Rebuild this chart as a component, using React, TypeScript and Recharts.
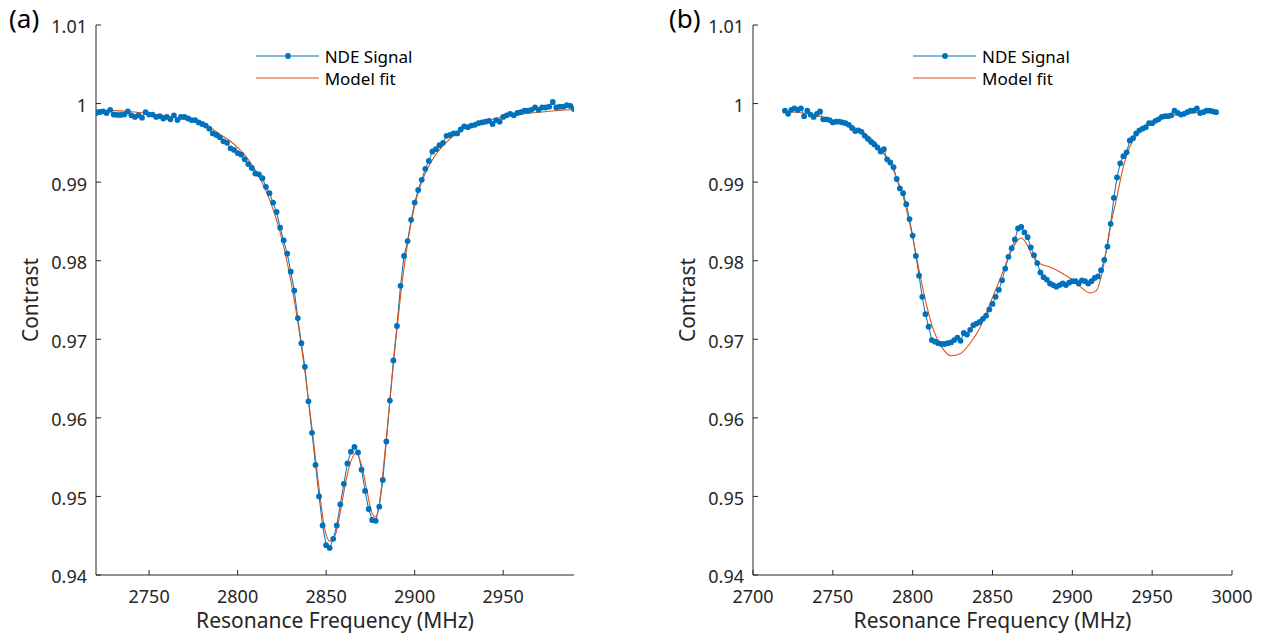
import { LineChart, Line, XAxis, YAxis } from "recharts";

const FONT = '"Noto Sans", sans-serif';
const INK = "#262626";
const BLUE = "#0072BD";
const RED = "#D95319";

// measured frequencies, 2 MHz apart
const freqs = Array.from({ length: 136 }, (_, i) => 2720 + 2 * i);

const signalA = [
  0.9988, 0.9989, 0.999, 0.9988, 0.9992, 0.9986, 0.99855, 0.99855, 0.9986, 0.999,
  0.9985, 0.9983, 0.9985, 0.9982, 0.9989, 0.9986, 0.9986, 0.9983, 0.9984, 0.9981,
  0.9983, 0.998, 0.9985, 0.9979, 0.9983, 0.9983, 0.9981, 0.9979, 0.9979, 0.9976,
  0.9974, 0.9972, 0.9968, 0.9962, 0.996, 0.9957, 0.9952, 0.995, 0.9943, 0.9941,
  0.9937, 0.9935, 0.9929, 0.9923, 0.9918, 0.9911, 0.991, 0.9905, 0.9894, 0.9886,
  0.9874, 0.9862, 0.9842, 0.9826, 0.9809, 0.9786, 0.9762, 0.9727, 0.9695, 0.9665,
  0.9621, 0.9581, 0.954, 0.95, 0.9463, 0.9438, 0.94345, 0.9446, 0.9463, 0.949,
  0.9516, 0.9542, 0.9557, 0.9563, 0.9556, 0.9534, 0.9507, 0.9484, 0.947, 0.9469,
  0.9487, 0.9521, 0.957, 0.9622, 0.9673, 0.9717, 0.9768, 0.9806, 0.9825, 0.9852,
  0.9874, 0.989, 0.9903, 0.9917, 0.9927, 0.9939, 0.9942, 0.9947, 0.995, 0.9959,
  0.996, 0.9962, 0.9962, 0.9967, 0.9971, 0.997, 0.9972, 0.9973, 0.9975, 0.9976,
  0.9977, 0.9978, 0.9974, 0.9979, 0.9977, 0.9983, 0.9985, 0.9987, 0.9985, 0.9988,
  0.9989, 0.9991, 0.9991, 0.9992, 0.9995, 0.9992, 0.9995, 0.9995, 0.9996, 1.0002,
  0.9995, 0.9996, 0.9996, 0.9998, 0.9997, 0.9993,
];

const fitFreqA = [
  2720, 2730, 2740, 2750, 2760, 2770, 2780, 2786, 2790, 2796, 2800, 2805, 2810,
  2814, 2818, 2822, 2826, 2830, 2834, 2838, 2842, 2846, 2849, 2852, 2855, 2858,
  2861, 2864, 2867, 2870, 2873, 2876, 2878, 2880, 2883, 2886, 2889, 2892, 2896,
  2900, 2903, 2907, 2911, 2918, 2927, 2937, 2946, 2956, 2966, 2975, 2990,
];
const fitA = [
  0.9992, 0.9991, 0.99895, 0.9987, 0.9984, 0.998, 0.9974, 0.99675, 0.9961, 0.9952,
  0.9944, 0.9932, 0.9915, 0.9899, 0.9878, 0.9852, 0.9818, 0.9775, 0.9722, 0.9659,
  0.9587, 0.951, 0.9461, 0.9443, 0.945, 0.948, 0.9518, 0.9545, 0.9555, 0.954,
  0.9508, 0.9478, 0.9474, 0.949, 0.9551, 0.9622, 0.9692, 0.9755, 0.9822, 0.987,
  0.9894, 0.9916, 0.9932, 0.9951, 0.9967, 0.9975, 0.9981, 0.99855, 0.9988, 0.999,
  0.99925,
];

const signalB = [
  0.9991, 0.9987, 0.9992, 0.9994, 0.9992, 0.9994, 0.9984, 0.9991, 0.9986, 0.9983,
  0.9987, 0.999, 0.998, 0.998, 0.9979, 0.9976, 0.9977, 0.9977, 0.9976, 0.9975,
  0.9973, 0.9969, 0.9965, 0.9966, 0.9964, 0.9959, 0.9955, 0.9951, 0.9948, 0.9944,
  0.9939, 0.9942, 0.9929, 0.9925, 0.9919, 0.9904, 0.9892, 0.9886, 0.9872, 0.9853,
  0.9832, 0.9806, 0.9781, 0.9754, 0.9732, 0.9716, 0.9699, 0.9697, 0.9695, 0.9694,
  0.9694, 0.9695, 0.9696, 0.9699, 0.9702, 0.9698, 0.9708, 0.9706, 0.9712, 0.9718,
  0.972, 0.9722, 0.9726, 0.973, 0.9738, 0.9745, 0.9754, 0.9763, 0.9775, 0.979,
  0.9805, 0.9816, 0.9827, 0.9841, 0.9843, 0.9836, 0.983, 0.9817, 0.9807, 0.9797,
  0.9785, 0.9779, 0.9776, 0.9771, 0.9769, 0.9767, 0.9769, 0.9771, 0.9769, 0.9772,
  0.9774, 0.9774, 0.9771, 0.9775, 0.9774, 0.9771, 0.9774, 0.9778, 0.978, 0.9788,
  0.9801, 0.9818, 0.9847, 0.988, 0.9906, 0.9924, 0.9933, 0.9938, 0.9953, 0.9956,
  0.9962, 0.9966, 0.9968, 0.997, 0.9975, 0.9975, 0.9978, 0.998, 0.9983, 0.9984,
  0.9984, 0.9985, 0.9991, 0.9988, 0.9986, 0.9987, 0.9989, 0.9991, 0.9991, 0.9994,
  0.9988, 0.9989, 0.9991, 0.9991, 0.999, 0.9989,
];

const fitFreqB = [
  2720, 2735, 2746, 2757, 2767, 2778, 2788, 2794, 2800, 2805, 2809, 2813, 2818,
  2824, 2830, 2836, 2842, 2848, 2855, 2861, 2865, 2868, 2871, 2875, 2879, 2886,
  2892, 2899, 2905, 2911, 2915, 2919, 2923, 2928, 2932, 2936, 2942, 2951, 2961,
  2976, 2990,
];
const fitB = [
  0.999, 0.9987, 0.9981, 0.9975, 0.9966, 0.9947, 0.9915, 0.9882, 0.983, 0.9778,
  0.9741, 0.9712, 0.9691, 0.9679, 0.9682, 0.9695, 0.9714, 0.9743, 0.9778, 0.9809,
  0.9824, 0.9829, 0.9823, 0.9806, 0.9797, 0.9792, 0.9786, 0.9777, 0.9767, 0.9759,
  0.9762, 0.9788, 0.9835, 0.9882, 0.992, 0.9945, 0.9964, 0.9977, 0.9984, 0.99884,
  0.9991,
];

const yTicks = [0.94, 0.95, 0.96, 0.97, 0.98, 0.99, 1, 1.01];
const xTicksA = [2750, 2800, 2850, 2900, 2950];
const xTicksB = [2700, 2750, 2800, 2850, 2900, 2950, 3000];

const axisLineStyle = { stroke: INK, strokeWidth: 1 };
const tickStyle = { fill: INK, fontSize: 18, fontFamily: FONT };

type PanelProps = {
  left: number;
  width: number;
  marginLeft: number;
  marginRight: number;
  xDomain: [number, number];
  xTicks: number[];
  signal: number[];
  fitFreq: number[];
  fit: number[];
  tag: string;
};

function Panel(p: PanelProps) {
  const signalData = freqs.map((f, i) => ({ f, v: p.signal[i] }));
  const fitData = p.fitFreq.map((f, i) => ({ f, v: p.fit[i] }));
  const plotLeft = p.marginLeft + 60;
  const plotRight = p.width - p.marginRight;
  const legendX = plotLeft + (plotRight - plotLeft) * 0.334;

  return (
    <div style={{ position: "absolute", left: p.left, top: 0, width: p.width, height: 641 }}>
      <LineChart
        width={p.width}
        height={641}
        margin={{ top: 25, right: p.marginRight, bottom: 36, left: p.marginLeft }}
      >
        <XAxis
          xAxisId="b"
          type="number"
          dataKey="f"
          domain={p.xDomain}
          ticks={p.xTicks}
          allowDataOverflow
          interval={0}
          height={30}
          tickSize={-5}
          tickMargin={20}
          tick={tickStyle}
          axisLine={axisLineStyle}
          tickLine={axisLineStyle}
          label={{
            value: "Resonance Frequency (MHz)",
            position: "bottom",
            offset: 8,
            fill: INK,
            fontSize: 21,
            fontFamily: FONT,
          }}
        />
        <XAxis
          xAxisId="t"
          orientation="top"
          type="number"
          dataKey="f"
          domain={p.xDomain}
          ticks={p.xTicks}
          allowDataOverflow
          interval={0}
          height={0}
          tickSize={-5}
          tick={false}
          axisLine={axisLineStyle}
          tickLine={axisLineStyle}
        />
        <YAxis
          yAxisId="l"
          type="number"
          domain={[0.94, 1.01]}
          ticks={yTicks}
          allowDataOverflow
          interval={0}
          width={60}
          tickSize={-5}
          tickMargin={14}
          tick={{ ...tickStyle, dy: 2 }}
          tickFormatter={(v: number) => String(Number(v.toFixed(2)))}
          axisLine={axisLineStyle}
          tickLine={axisLineStyle}
        />
        <YAxis
          yAxisId="r"
          orientation="right"
          type="number"
          domain={[0.94, 1.01]}
          ticks={yTicks}
          allowDataOverflow
          interval={0}
          width={0}
          tickSize={-5}
          tick={false}
          axisLine={axisLineStyle}
          tickLine={axisLineStyle}
        />
        <Line
          xAxisId="b"
          yAxisId="l"
          data={signalData}
          dataKey="v"
          type="linear"
          stroke={BLUE}
          strokeWidth={1}
          dot={{ r: 2.9, fill: BLUE, stroke: "none" }}
          activeDot={false}
          isAnimationActive={false}
        />
        <Line
          xAxisId="b"
          yAxisId="l"
          data={fitData}
          dataKey="v"
          type="monotone"
          stroke={RED}
          strokeWidth={1.1}
          dot={false}
          activeDot={false}
          isAnimationActive={false}
        />
      </LineChart>

      {/* panel tag and y title */}
      <div
        style={{
          position: "absolute",
          left: 9,
          top: 0,
          fontFamily: FONT,
          fontSize: 26,
          color: "#000",
        }}
      >
        {p.tag}
      </div>
      <div
        style={{
          position: "absolute",
          left: plotLeft - 66,
          top: 300,
          transform: "translate(-50%, -50%) rotate(-90deg)",
          fontFamily: FONT,
          fontSize: 21,
          color: INK,
          whiteSpace: "nowrap",
        }}
      >
        Contrast
      </div>

      {/* legend */}
      <div style={{ position: "absolute", left: legendX, top: 45, fontFamily: FONT, fontSize: 17, color: "#000" }}>
        <div style={{ display: "flex", alignItems: "center", height: 22 }}>
          <svg width={64} height={10}>
            <line x1={0} y1={5} x2={63} y2={5} stroke={BLUE} strokeWidth={1} />
            <circle cx={32} cy={5} r={2.9} fill={BLUE} />
          </svg>
          <span style={{ marginLeft: 5 }}>NDE Signal</span>
        </div>
        <div style={{ display: "flex", alignItems: "center", height: 22 }}>
          <svg width={64} height={10}>
            <line x1={0} y1={5} x2={63} y2={5} stroke={RED} strokeWidth={1.1} />
          </svg>
          <span style={{ marginLeft: 5 }}>Model fit</span>
        </div>
      </div>
    </div>
  );
}

export default function App() {
  return (
    <div style={{ position: "absolute", left: 0, top: 0, width: 1267, height: 641, background: "#fff" }}>
      <Panel
        left={0}
        width={600}
        marginLeft={36}
        marginRight={26}
        xDomain={[2720, 2990]}
        xTicks={xTicksA}
        signal={signalA}
        fitFreq={fitFreqA}
        fit={fitA}
        tag="(a)"
      />
      <Panel
        left={660}
        width={607}
        marginLeft={33}
        marginRight={35}
        xDomain={[2700, 3000]}
        xTicks={xTicksB}
        signal={signalB}
        fitFreq={fitFreqB}
        fit={fitB}
        tag="(b)"
      />
    </div>
  );
}
